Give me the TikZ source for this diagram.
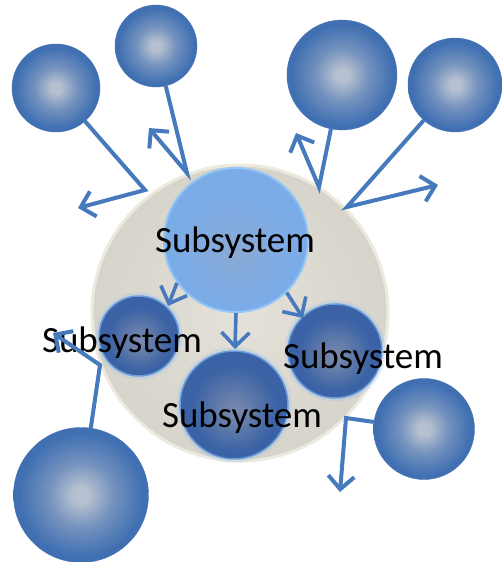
\documentclass[tikz,border=0pt]{standalone}
\usepackage{fontspec}
\setmainfont{Carlito}
\usepackage{tikz}
\usetikzlibrary{arrows.meta}

\definecolor{ballin}{RGB}{182,192,208}
\definecolor{ballmid}{RGB}{116,146,190}
\definecolor{ballout}{RGB}{64,112,178}
\definecolor{subin}{RGB}{124,140,174}
\definecolor{subout}{RGB}{58,98,164}
\definecolor{subrim}{RGB}{108,158,220}
\definecolor{topfill}{RGB}{124,172,232}
\definecolor{topin}{RGB}{138,170,214}
\definecolor{toprim}{RGB}{146,198,246}
\definecolor{sysin}{RGB}{228,225,218}
\definecolor{sysout}{RGB}{212,209,199}
\definecolor{sysrim}{RGB}{236,233,222}
\definecolor{linkblue}{RGB}{70,122,188}

\pgfdeclareradialshading{ballshade}{\pgfpoint{0bp}{0bp}}{color(0bp)=(ballin); color(3bp)=(ballin); color(12bp)=(ballmid); color(23bp)=(ballout); color(50bp)=(ballout)}
\pgfdeclareradialshading{subshade}{\pgfpoint{0bp}{-3bp}}{color(0bp)=(subin); color(20bp)=(subout); color(50bp)=(subout)}
\pgfdeclareradialshading{topshade}{\pgfpoint{0bp}{-5bp}}{color(0bp)=(topin); color(20bp)=(topfill); color(50bp)=(topfill)}
\pgfdeclareradialshading{sysshade}{\pgfpoint{0bp}{0bp}}{color(0bp)=(sysin); color(30bp)=(sysout); color(50bp)=(sysout)}

\tikzset{LINK/.style={line width=4pt, draw=linkblue, line join=miter, -{Straight Barb[length=13pt, width=26pt]}}}
\tikzset{INNER/.style={line width=3.6pt, draw=linkblue, -{Straight Barb[length=14pt, width=28pt]}}}
\tikzset{BALL/.style={circle, inner sep=0pt, minimum size=#1, shading=ballshade, draw=ballout, thin}}
\tikzset{SUB/.style={circle, inner sep=0pt, minimum size=#1, shading=subshade, draw=subrim, line width=1.5pt,
    preaction={draw=subrim!60!white, line width=7pt, opacity=0.35}}}
\tikzset{LABEL/.style={anchor=base, inner sep=0pt, font=\fontsize{37}{40}\selectfont}}

\begin{document}
\begin{tikzpicture}[x=1pt, y=-1pt]
    \useasboundingbox (0,0) rectangle (501,562);

    % the system and its parts
    \node[circle, inner sep=0pt, minimum size=296pt, shading=sysshade, draw=sysrim, line width=3pt] (n_system) at (240,313) {};
    \node[circle, inner sep=0pt, minimum size=144pt, shading=topshade, draw=toprim, line width=2pt] (n_top) at (236,240) {};
    \node[SUB=80pt] (n_left) at (139,336) {};
    \node[SUB=108pt] (n_bottom) at (234,405) {};
    \node[SUB=94pt] (n_right) at (335,351) {};

    \draw[INNER] (n_top.216) -- (168,306) coordinate (c_in_left);
    \draw[INNER] (n_top.south) -- (235,349) coordinate (c_in_bottom);
    \draw[INNER] (n_top.314) -- (303,318) coordinate (c_in_right);

    \node[LABEL] (l_top) at (235,252) {Subsystem};
    \node[LABEL] (l_left) at (122,352) {Subsystem};
    \node[LABEL] (l_bottom) at (242,427) {Subsystem};
    \node[LABEL] (l_right) at (363,368) {Subsystem};

    % outside systems
    \node[BALL=88pt] (n_ball_a) at (56,88) {};
    \node[BALL=82pt] (n_ball_b) at (156,46) {};
    \node[BALL=110pt] (n_ball_c) at (342,75) {};
    \node[BALL=94pt] (n_ball_d) at (455,85) {};
    \node[BALL=135pt] (n_ball_e) at (81,495) {};
    \node[BALL=101pt] (n_ball_f) at (424,429) {};

    \coordinate (c_bend_a) at (145,190);
    \coordinate (c_tip_a) at (78,208);
    \coordinate (c_bend_b) at (187,173);
    \coordinate (c_tip_b) at (149,128);
    \coordinate (c_bend_c) at (319,187);
    \coordinate (c_tip_c) at (296,133);
    \coordinate (c_bend_d) at (347,207);
    \coordinate (c_tip_d) at (438,185);
    \coordinate (c_bend_e) at (100,365);
    \coordinate (c_tip_e) at (53,333);
    \coordinate (c_bend_f) at (346,418);
    \coordinate (c_tip_f) at (340,492);

    \draw[LINK] (n_ball_a) -- (c_bend_a) -- (c_tip_a);
    \draw[LINK] (n_ball_b) -- (c_bend_b) -- (c_tip_b);
    \draw[LINK] (n_ball_c) -- (c_bend_c) -- (c_tip_c);
    \draw[LINK] (n_ball_d) -- (c_bend_d) -- (c_tip_d);
    \draw[LINK] (n_ball_e) -- (c_bend_e) -- (c_tip_e);
    \draw[LINK] (n_ball_f) -- (c_bend_f) -- (c_tip_f);
\end{tikzpicture}
\end{document}
